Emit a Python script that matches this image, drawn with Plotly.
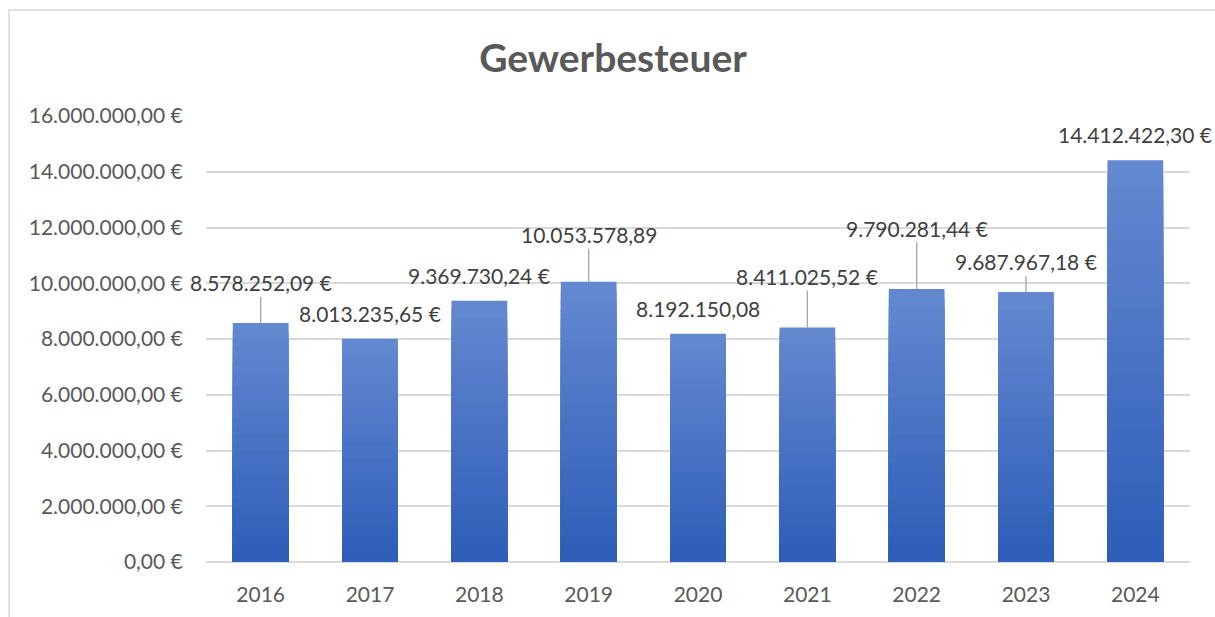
import plotly.graph_objects as go

years = ["2016", "2017", "2018", "2019", "2020", "2021", "2022", "2023", "2024"]
values = [8578252.09, 8013235.65, 9369730.24, 10053578.89, 8192150.08,
          8411025.52, 9790281.44, 9687967.18, 14412422.30]
labels = ["8.578.252,09 €", "8.013.235,65 €", "9.369.730,24 €", "10.053.578,89",
          "8.192.150,08", "8.411.025,52 €", "9.790.281,44 €", "9.687.967,18 €",
          "14.412.422,30 €"]
label_offsets = [-40, -25, -25, -47, -25, -51, -61, -30, -26]
leader = [True, False, False, True, False, True, True, True, False]
tick_vals = [0, 2e6, 4e6, 6e6, 8e6, 10e6, 12e6, 14e6, 16e6]
tick_text = ["0,00 €", "2.000.000,00 €", "4.000.000,00 €", "6.000.000,00 €",
             "8.000.000,00 €", "10.000.000,00 €", "12.000.000,00 €",
             "14.000.000,00 €", "16.000.000,00 €"]

W, H = 1215, 617
L, R, T, B = 206, 25, 116, 55
FONT = "Lato"

fig = go.Figure()

# vertical gradient simulated by overlaid bands
N = 30
top = (99, 136, 208)
bot = (46, 94, 184)
for k in range(N):
    f = k / (N - 1)
    c = tuple(round(top[i] + (bot[i] - top[i]) * f) for i in range(3))
    frac = 1 - k / N
    fig.add_trace(go.Bar(
        x=years, y=[v * frac for v in values],
        marker=dict(color=f"rgb{c}", line=dict(width=0)),
        hoverinfo="skip", showlegend=False,
    ))

for i, (v, t, off, ld) in enumerate(zip(values, labels, label_offsets, leader)):
    fig.add_annotation(
        x=i, y=v, text=t, showarrow=True, ax=0, ay=off,
        arrowhead=0, arrowwidth=1.3, standoff=0, startstandoff=0,
        arrowcolor="#a6a6a6" if ld else "rgba(0,0,0,0)",
        font=dict(family=FONT, size=21, color="#404040"),
    )

pw = W - L - R
ph = H - T - B
def px(x):
    return (x - L) / pw
def py(y):
    return (H - B - y) / ph
fig.add_shape(type="path", xref="paper", yref="paper",
              path=f"M {px(9)} {py(640)} L {px(9)} {py(10)} L {px(1240)} {py(10)}",
              line=dict(color="#d9d9d9", width=1.5))

fig.update_layout(
    width=W, height=H, autosize=False,
    margin=dict(l=L, r=R, t=T, b=B),
    barmode="overlay", bargap=0.49,
    paper_bgcolor="white", plot_bgcolor="white",
    title=dict(text="<b>Gewerbesteuer</b>", x=613 / W, xref="container", xanchor="center",
               y=1 - 58 / H, yanchor="middle",
               font=dict(family=FONT, size=39, color="#595959")),
    font=dict(family=FONT, color="#595959"),
    xaxis=dict(type="category", categoryorder="array", categoryarray=years,
               range=[-0.5, len(years) - 0.5], autorange=False,
               tickfont=dict(size=21, color="#595959"), showgrid=False,
               ticks="outside", ticklen=14, tickcolor="rgba(0,0,0,0)", showline=False),
    yaxis=dict(range=[0, 16e6], tickvals=tick_vals, ticktext=tick_text,
               tickfont=dict(size=21, color="#595959"), gridcolor="#d9d9d9",
               gridwidth=1.5, zeroline=True, zerolinecolor="#d9d9d9", zerolinewidth=1.5,
               ticks="outside", ticklen=18, tickcolor="rgba(0,0,0,0)"),
)

fig.write_html("out.html", config={"displayModeBar": False},
               post_script="document.body.style.margin='0';")
